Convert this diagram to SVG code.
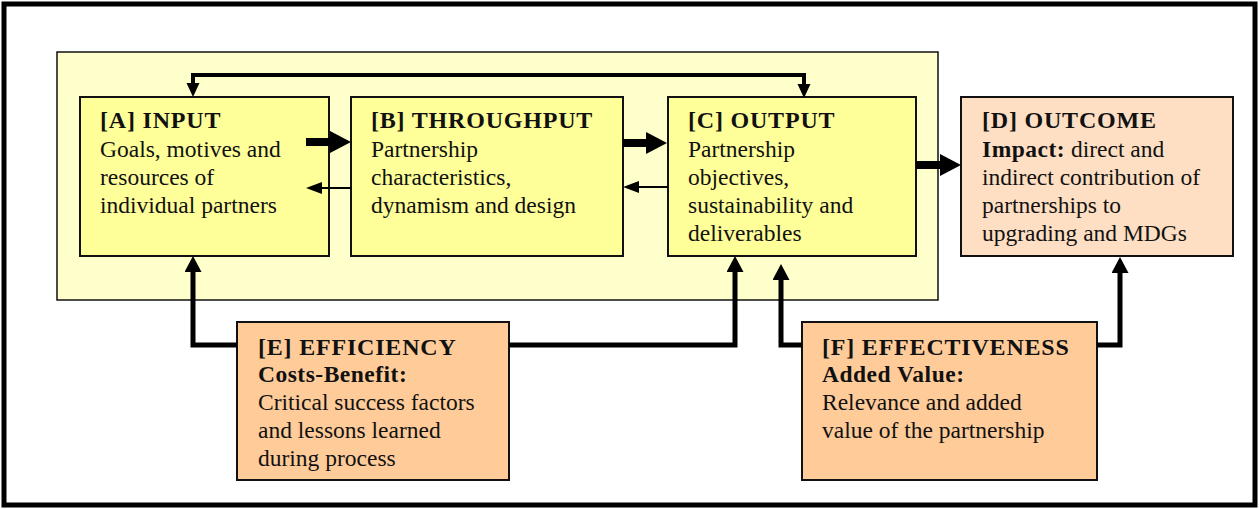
<svg xmlns="http://www.w3.org/2000/svg" width="1260" height="509" viewBox="0 0 1260 509">
<style>
text{font-family:"Liberation Serif","Times New Roman",serif;fill:#111;}
.t{font-size:24px;font-weight:bold;letter-spacing:0.8px;}
.b{font-size:23.5px;}
.bb{font-weight:bold;letter-spacing:0.5px;}
.box{stroke:#111;stroke-width:2;}
.y{fill:#FFFF99;}
.pk{fill:#FFDFC3;}
.or{fill:#FFCC99;}
.thick{fill:none;stroke:#000;stroke-width:8;}
.vert{fill:none;stroke:#000;stroke-width:5;}
.top{fill:none;stroke:#000;stroke-width:4;}
.thin{fill:none;stroke:#000;stroke-width:2;}
</style>
<defs>
<marker id="hb" markerUnits="userSpaceOnUse" markerWidth="22" markerHeight="24" refX="0" refY="11" orient="auto"><path d="M0,0 L21,11 L0,22 z" fill="#000"/></marker>
<marker id="hm" markerUnits="userSpaceOnUse" markerWidth="18" markerHeight="18" refX="0" refY="8.5" orient="auto"><path d="M0,0 L16,8.5 L0,17 z" fill="#000"/></marker>
<marker id="hs" markerUnits="userSpaceOnUse" markerWidth="16" markerHeight="14" refX="0" refY="6.5" orient="auto-start-reverse"><path d="M0,0 L14,6.5 L0,13 z" fill="#000"/></marker>
<marker id="ht" markerUnits="userSpaceOnUse" markerWidth="17" markerHeight="14" refX="0" refY="6" orient="auto"><path d="M0,0 L16,6 L0,12 z" fill="#000"/></marker>
</defs>
<rect x="0" y="0" width="1260" height="509" fill="#fff"/>
<rect x="4" y="4" width="1251" height="501" fill="#fff" stroke="#000" stroke-width="5"/>
<rect id="container" x="57" y="52" width="881" height="248" fill="#FFFFCC" stroke="#111" stroke-width="1.5"/>

<g id="nodeA">
<rect class="box y" x="80" y="97" width="249" height="159"/>
<text class="t" x="100" y="128">[A] INPUT</text>
<text class="b" x="100" y="157">Goals, motives and</text>
<text class="b" x="100" y="185">resources of</text>
<text class="b" x="100" y="213">individual partners</text>
</g>
<g id="nodeB">
<rect class="box y" x="351" y="97" width="272" height="159"/>
<text class="t" x="371" y="128">[B] THROUGHPUT</text>
<text class="b" x="371" y="157">Partnership</text>
<text class="b" x="371" y="185">characteristics,</text>
<text class="b" x="371" y="213">dynamism and design</text>
</g>
<g id="nodeC">
<rect class="box y" x="668" y="97" width="248" height="159"/>
<text class="t" x="688" y="128">[C] OUTPUT</text>
<text class="b" x="688" y="157">Partnership</text>
<text class="b" x="688" y="185">objectives,</text>
<text class="b" x="688" y="213">sustainability and</text>
<text class="b" x="688" y="241">deliverables</text>
</g>
<g id="nodeD">
<rect class="box pk" x="961" y="97" width="272" height="159"/>
<text class="t" x="982" y="128">[D] OUTCOME</text>
<text class="b" x="982" y="157"><tspan class="bb">Impact:</tspan> direct and</text>
<text class="b" x="982" y="185">indirect contribution of</text>
<text class="b" x="982" y="213">partnerships to</text>
<text class="b" x="982" y="241">upgrading and MDGs</text>
</g>
<g id="nodeE">
<rect class="box or" x="237" y="322" width="272" height="158"/>
<text class="t" x="258" y="355">[E] EFFICIENCY</text>
<text class="b bb" x="258" y="382">Costs-Benefit:</text>
<text class="b" x="258" y="410">Critical success factors</text>
<text class="b" x="258" y="438">and lessons learned</text>
<text class="b" x="258" y="466">during process</text>
</g>
<g id="nodeF">
<rect class="box or" x="802" y="322" width="295" height="158"/>
<text class="t" x="822" y="355">[F] EFFECTIVENESS</text>
<text class="b bb" x="822" y="382">Added Value:</text>
<text class="b" x="822" y="410">Relevance and added</text>
<text class="b" x="822" y="438">value of the partnership</text>
</g>

<g id="connectors">
<path class="thick" d="M306,142 H330" marker-end="url(#hb)"/>
<path class="thick" d="M623,143 H646" marker-end="url(#hb)"/>
<path class="thick" d="M916,165 H940" marker-end="url(#hb)"/>
<path class="thin" d="M351,188 H322" marker-end="url(#ht)"/>
<path class="thin" d="M668,187 H639" marker-end="url(#ht)"/>
<path class="top" d="M193,83 V75 H804 V84" marker-start="url(#hs)" marker-end="url(#hs)"/>
<path class="vert" d="M237,345 H193 V272" marker-end="url(#hm)"/>
<path class="vert" d="M509,345 H735 V272" marker-end="url(#hm)"/>
<path class="vert" d="M802,345 H781 V280" marker-end="url(#hm)"/>
<path class="vert" d="M1097,345 H1120 V273" marker-end="url(#hm)"/>
</g>
</svg>
